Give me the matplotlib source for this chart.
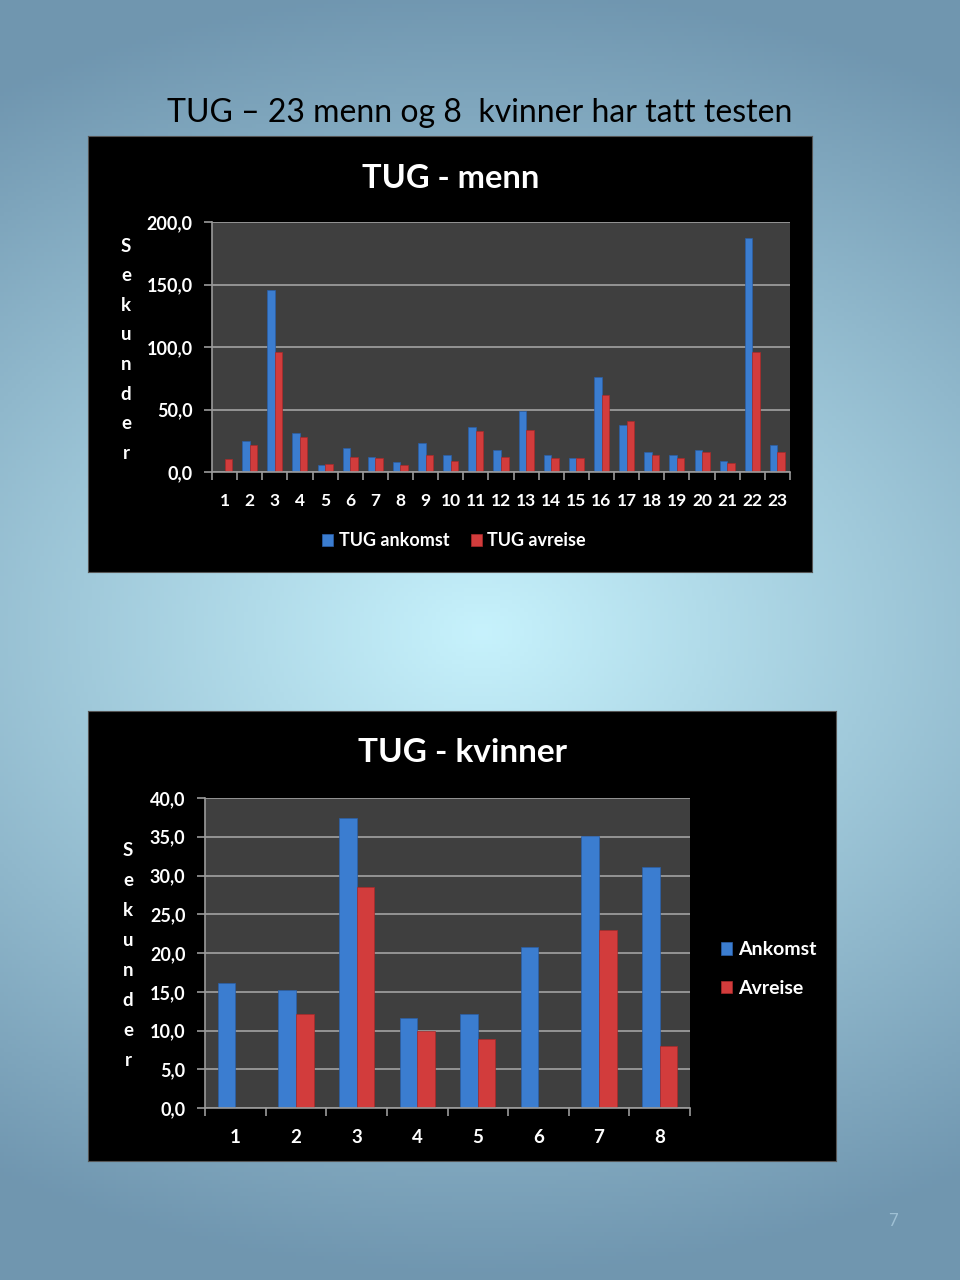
import numpy as np
import matplotlib
matplotlib.use("Agg")
import matplotlib.pyplot as plt

# ---------------- data ----------------
men_labels = [str(i) for i in range(1, 24)]
men_ankomst = [0, 24.8, 146, 31, 5.6, 19, 12, 8, 23, 14, 36, 18, 49, 14, 11, 76, 38, 16, 14, 18, 9, 187, 22]
men_avreise = [10.4, 21.6, 96, 28, 6.4, 12, 11, 6, 14, 9, 33, 12, 34, 11, 11, 62, 41, 14, 11, 16, 7, 96, 16]
men_yticks = [0, 50, 100, 150, 200]

women_labels = [str(i) for i in range(1, 9)]
women_ankomst = [16.1, 15.2, 37.4, 11.6, 12.1, 20.8, 35.1, 31.1]
women_avreise = [0, 12.1, 28.5, 9.9, 8.9, 0, 23.0, 8.0]
women_yticks = [0, 5, 10, 15, 20, 25, 30, 35, 40]

page_title = "TUG \u2013 23 menn og 8  kvinner har tatt testen"
men_title = "TUG - menn"
women_title = "TUG - kvinner"
ylabel_letters = list("Sekunder")

# ---------------- style ----------------
W, H = 960, 1280
FONT = "Lato"
BLUE = "#3b7dd0"
RED = "#d23c3c"
GRID = "#9a9a9a"
PLOTBG = "#3f3f3f"

plt.rcParams["font.family"] = [FONT, "DejaVu Sans"]

fig = plt.figure(figsize=(W / 100, H / 100), dpi=100)


def fx(x):
    return x / W


def fy(y):
    return 1 - y / H


# background gradient
bg = fig.add_axes([0, 0, 1, 1], zorder=-10)
yy, xx = np.mgrid[0:H:4, 0:W:4]
d = np.sqrt(((xx - 480) / 900.0) ** 2 + ((yy - 630) / 640.0) ** 2)
d = np.clip(d, 0, 1)
c_center = np.array([0.78, 0.95, 0.99])
c_edge = np.array([0.44, 0.59, 0.69])
img = c_center[None, None, :] * (1 - d[..., None]) + c_edge[None, None, :] * d[..., None]
bg.imshow(img, extent=[0, 1, 0, 1], aspect="auto", origin="upper")
bg.set_axis_off()

fig.text(fx(480), fy(113), page_title, ha="center", va="center", fontsize=23, color="black")
fig.text(fx(893), fy(1221), "7", ha="center", va="center", fontsize=12, color="#9fc0d4")


def panel(x0, y0, x1, y1):
    ax = fig.add_axes([fx(x0), fy(y1), fx(x1 - x0), (y1 - y0) / H], zorder=0)
    ax.set_facecolor("black")
    ax.set_xticks([])
    ax.set_yticks([])
    for s in ax.spines.values():
        s.set_edgecolor("#555555")
        s.set_linewidth(0.8)
    return ax


def plot_axes(x0, y0, x1, y1):
    ax = fig.add_axes([fx(x0), fy(y1), fx(x1 - x0), (y1 - y0) / H], zorder=1)
    ax.set_facecolor(PLOTBG)
    for s in ["top", "right"]:
        ax.spines[s].set_visible(False)
    for s in ["left", "bottom"]:
        ax.spines[s].set_color(GRID)
        ax.spines[s].set_linewidth(1.2)
    ax.set_axisbelow(True)
    ax.yaxis.grid(True, color=GRID, linewidth=1.3)
    return ax


def draw_bars(ax, labels, a, b, w):
    x = np.arange(1, len(labels) + 1)
    ba = ax.bar(x - w / 2, a, width=w, color=BLUE, edgecolor="#2a5fa8", linewidth=0.5)
    bb = ax.bar(x + w / 2, b, width=w, color=RED, edgecolor="#a82a2a", linewidth=0.5)
    ax.set_xlim(0.5, len(labels) + 0.5)
    ax.set_xticks(x)
    ax.set_xticks(np.arange(0.5, len(labels) + 1), minor=True)
    ax.tick_params(axis="x", which="major", length=0, colors="white")
    ax.tick_params(axis="x", which="minor", length=6, color=GRID, width=1.2)
    ax.tick_params(axis="y", length=6, color=GRID, width=1.2, colors="white")
    return ba, bb


# ---------------- men ----------------
panel(88, 136, 812, 572)
ax1 = plot_axes(212, 222, 790, 472)
b1a, b1b = draw_bars(ax1, men_labels, men_ankomst, men_avreise, 0.30)
ax1.set_ylim(0, 200)
ax1.set_yticks(men_yticks)
ax1.set_yticklabels([f"{v:.1f}".replace(".", ",") for v in men_yticks],
                    fontsize=13, fontweight="bold", color="white")
ax1.set_xticklabels(men_labels, fontsize=12.5, fontweight="bold", color="white")
ax1.tick_params(axis="x", pad=15)
ax1.tick_params(axis="y", pad=8, labelcolor="white")
fig.text(fx(451), fy(179), men_title, ha="center", va="center", fontsize=23.5,
         fontweight="bold", color="white")
for i, ch in enumerate(ylabel_letters):
    fig.text(fx(126), fy(246 + i * 29.6), ch, ha="center", va="center",
             fontsize=13.5, fontweight="bold", color="white")
fig.legend([b1a, b1b], ["TUG ankomst", "TUG avreise"], loc="center",
           bbox_to_anchor=(fx(454), fy(541)), ncol=2, frameon=False,
           labelcolor="white", handlelength=0.6, handleheight=0.6,
           handletextpad=0.3, columnspacing=1.2, prop={"weight": "bold", "size": 13})

# ---------------- women ----------------
panel(88, 711, 836, 1161)
ax2 = plot_axes(205, 798, 690, 1108)
b2a, b2b = draw_bars(ax2, women_labels, women_ankomst, women_avreise, 0.29)
ax2.set_ylim(0, 40)
ax2.set_yticks(women_yticks)
ax2.set_yticklabels([f"{v:.1f}".replace(".", ",") for v in women_yticks],
                    fontsize=13, fontweight="bold", color="white")
ax2.set_xticklabels(women_labels, fontsize=13.5, fontweight="bold", color="white")
ax2.tick_params(axis="x", pad=15)
ax2.tick_params(axis="y", pad=8, labelcolor="white")
fig.text(fx(462), fy(753), women_title, ha="center", va="center", fontsize=24,
         fontweight="bold", color="white")
for i, ch in enumerate(ylabel_letters):
    fig.text(fx(128), fy(851 + i * 30), ch, ha="center", va="center",
             fontsize=13.5, fontweight="bold", color="white")
fig.legend([b2a, b2b], ["Ankomst", "Avreise"], loc="center left",
           bbox_to_anchor=(fx(703), fy(969)), ncol=1, frameon=False,
           labelcolor="white", handlelength=0.6, handleheight=0.6,
           handletextpad=0.3, labelspacing=1.1, prop={"weight": "bold", "size": 14})

fig.savefig("out.png", dpi=100)
